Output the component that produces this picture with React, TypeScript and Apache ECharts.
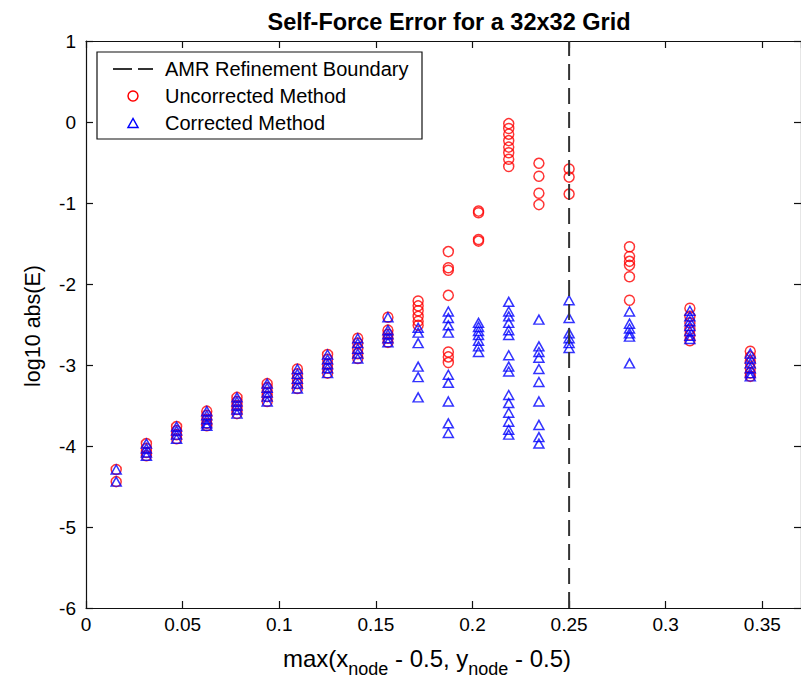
import React, { useEffect, useRef } from "react";
import * as echarts from "echarts";

// Node distance from the domain centre, max(|x - 0.5|, |y - 0.5|), one entry per ring of nodes.
const nodeDistance = [
  0.015625, 0.03125, 0.046875, 0.0625, 0.078125, 0.09375, 0.109375, 0.125, 0.140625, 0.15625,
  0.171875, 0.1875, 0.203125, 0.21875, 0.234375, 0.25, 0.28125, 0.3125, 0.34375,
];

// log10 |E| for the inner rings, where both methods give the same error.
const sharedInner = [
  [-4.29, -4.44],
  [-3.97, -4.03, -4.08, -4.12],
  [-3.76, -3.81, -3.86, -3.91],
  [-3.57, -3.62, -3.67, -3.72, -3.75],
  [-3.4, -3.45, -3.5, -3.55, -3.6],
  [-3.23, -3.28, -3.34, -3.39, -3.45],
  [-3.05, -3.11, -3.17, -3.23, -3.29],
  [-2.87, -2.93, -2.99, -3.04, -3.1],
  [-2.67, -2.73, -2.8, -2.86, -2.92],
  [-2.41, -2.57, -2.62, -2.67, -2.72],
];

// log10 |E| for the outer rings, uncorrected method.
const uncorrectedOuter = [
  [-2.21, -2.27, -2.33, -2.4, -2.46, -2.51],
  [-1.6, -1.8, -1.83, -2.14, -2.84, -2.9, -2.97],
  [-1.1, -1.12, -1.45, -1.47],
  [-0.02, -0.08, -0.15, -0.23, -0.31, -0.38, -0.46, -0.55],
  [-0.51, -0.67, -0.88, -1.02],
  [-0.58, -0.68, -0.89],
  [-1.54, -1.66, -1.72, -1.77, -1.91, -2.2],
  [-2.3, -2.4, -2.48, -2.56, -2.63, -2.7],
  [-2.83, -2.9, -2.97, -3.04, -3.1, -3.14],
];

// log10 |E| for the outer rings, corrected method.
const correctedOuter = [
  [-2.54, -2.6, -2.73, -3.02, -3.15, -3.4],
  [-2.34, -2.42, -2.51, -2.6, -3.12, -3.22, -3.45, -3.72, -3.84],
  [-2.48, -2.53, -2.58, -2.63, -2.7, -2.77, -2.84],
  [-2.22, -2.34, -2.4, -2.48, -2.57, -2.63, -2.88, -3.02, -3.08, -3.37, -3.47, -3.59, -3.7, -3.8, -3.86],
  [-2.44, -2.77, -2.84, -2.91, -3.05, -3.21, -3.45, -3.74, -3.89, -3.97],
  [-2.2, -2.42, -2.61, -2.67, -2.73, -2.79],
  [-2.34, -2.49, -2.55, -2.61, -2.65, -2.98],
  [-2.33, -2.4, -2.46, -2.52, -2.58, -2.64, -2.68],
  [-2.86, -2.92, -2.98, -3.04, -3.1, -3.14],
];

const refinementBoundary = 0.25;
const yRange = [-6, 1];

const FONT = "Liberation Sans, Arial, Helvetica, sans-serif";

function toPoints(columns: number[][]): number[][] {
  const pts: number[][] = [];
  columns.forEach((col, i) => {
    col.forEach((v) => pts.push([nodeDistance[i], v]));
  });
  return pts;
}

export default function App() {
  const ref = useRef<HTMLDivElement>(null);

  useEffect(() => {
    document.body.style.margin = "0";
    if (!ref.current) return;
    const chart = echarts.init(ref.current, undefined, { renderer: "svg" });

    const uncorrected = toPoints([...sharedInner, ...uncorrectedOuter]);
    const corrected = toPoints([...sharedInner, ...correctedOuter]);

    const lineStyle = { color: "#111", width: 1.2 };
    const tickStyle = { color: "#111", width: 1.2 };
    const xBase = {
      type: "value" as const,
      min: 0,
      max: 0.37,
      interval: 0.05,
      splitLine: { show: false },
      axisLine: { show: true, onZero: false, lineStyle },
      axisTick: { show: true, inside: true, length: 7, lineStyle: tickStyle },
    };
    const yBase = {
      type: "value" as const,
      min: yRange[0],
      max: yRange[1],
      interval: 1,
      splitLine: { show: false },
      axisLine: { show: true, onZero: false, lineStyle },
      axisTick: { show: true, inside: true, length: 7, lineStyle: tickStyle },
    };

    chart.setOption({
      animation: false,
      backgroundColor: "#ffffff",
      title: {
        text: "Self-Force Error for a 32x32 Grid",
        left: 444,
        top: 5,
        textAlign: "center",
        textStyle: { fontFamily: FONT, fontSize: 23.5, fontWeight: "bold", color: "#000" },
      },
      grid: { left: 86, top: 41, right: -4, bottom: 73 },
      xAxis: [
        {
          ...xBase,
          position: "bottom",
          axisLabel: {
            fontFamily: FONT,
            fontSize: 19,
            color: "#000",
            margin: 7,
            showMaxLabel: false,
            formatter: (v: number) => String(+v.toFixed(2)),
          },
        },
        { ...xBase, position: "top", axisLabel: { show: false } },
      ],
      yAxis: [
        {
          ...yBase,
          position: "left",
          axisLabel: { fontFamily: FONT, fontSize: 19, color: "#000", margin: 10 },
        },
        { ...yBase, position: "right", axisLabel: { show: false } },
      ],
      series: [
        {
          name: "Uncorrected Method",
          type: "scatter",
          xAxisIndex: 0,
          yAxisIndex: 0,
          symbol: "circle",
          symbolSize: 10,
          itemStyle: { color: "transparent", borderColor: "#ff0000", borderWidth: 1.5 },
          emphasis: { disabled: true },
          data: uncorrected,
          z: 2,
        },
        {
          name: "Corrected Method",
          type: "scatter",
          xAxisIndex: 0,
          yAxisIndex: 0,
          symbol: "triangle",
          symbolSize: [10, 9],
          itemStyle: { color: "transparent", borderColor: "#0000ff", borderWidth: 1.5 },
          emphasis: { disabled: true },
          data: corrected,
          z: 3,
        },
        {
          name: "AMR Refinement Boundary",
          type: "line",
          xAxisIndex: 0,
          yAxisIndex: 0,
          symbol: "none",
          lineStyle: { color: "#333", width: 2, type: [16, 8] },
          data: [
            [refinementBoundary, yRange[0]],
            [refinementBoundary, yRange[1]],
          ],
          z: 4,
        },
      ],
      graphic: [
        {
          type: "text",
          x: 33,
          y: 326,
          rotation: Math.PI / 2,
          style: {
            text: "log10 abs(E)",
            fontFamily: FONT,
            fontSize: 21.5,
            fill: "#000",
            align: "center",
            verticalAlign: "middle",
          },
        },
        {
          type: "text",
          x: 427,
          y: 658,
          style: {
            text: "max(x{sub|node} - 0.5, y{sub|node} - 0.5)",
            fontFamily: FONT,
            fontSize: 24,
            fill: "#000",
            align: "center",
            verticalAlign: "middle",
            rich: {
              sub: { fontFamily: FONT, fontSize: 18, fill: "#000", padding: [22, 0, 0, 0] },
            },
          },
        },
        {
          type: "group",
          z: 100,
          children: [
            {
              type: "rect",
              shape: { x: 97, y: 52, width: 325, height: 87 },
              style: { fill: "#fff", stroke: "#111", lineWidth: 1.2 },
            },
            {
              type: "line",
              shape: { x1: 113, y1: 69, x2: 153, y2: 69 },
              style: { stroke: "#333", lineWidth: 2, lineDash: [19, 6] },
            },
            {
              type: "circle",
              shape: { cx: 133, cy: 96, r: 5 },
              style: { fill: "none", stroke: "#ff0000", lineWidth: 1.5 },
            },
            {
              type: "polygon",
              shape: { points: [[133, 118.5], [128, 127.5], [138, 127.5]] },
              style: { fill: "none", stroke: "#0000ff", lineWidth: 1.5 },
            },
            {
              type: "text",
              x: 165,
              y: 69,
              style: { text: "AMR Refinement Boundary", fontFamily: FONT, fontSize: 20, fill: "#000", verticalAlign: "middle" },
            },
            {
              type: "text",
              x: 165,
              y: 96,
              style: { text: "Uncorrected Method", fontFamily: FONT, fontSize: 20, fill: "#000", verticalAlign: "middle" },
            },
            {
              type: "text",
              x: 165,
              y: 123,
              style: { text: "Corrected Method", fontFamily: FONT, fontSize: 20, fill: "#000", verticalAlign: "middle" },
            },
          ],
        },
      ],
    });

    return () => chart.dispose();
  }, []);

  return (
    <div
      ref={ref}
      style={{ position: "fixed", left: 0, top: 0, width: 801, height: 681, background: "#fff" }}
    />
  );
}
